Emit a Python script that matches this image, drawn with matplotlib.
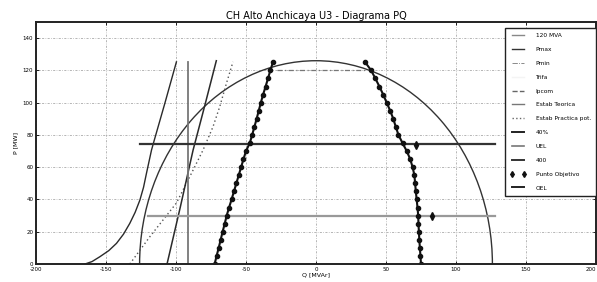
import matplotlib
matplotlib.use('Agg')
import matplotlib.pyplot as plt
from matplotlib.patches import Arc
from matplotlib.lines import Line2D

title = "CH Alto Anchicaya U3 - Diagrama PQ"
x_ticks = [-200, -150, -100, -50, 0, 50, 100, 150, 200]
y_ticks = [0, 20, 40, 60, 80, 100, 120, 140]

# stator limit (MVA circle radius)
mva_radius = 126

# theoretical stability limit
teorica_q = [-165.0, -160.0, -154.4, -148.0, -142.5, -137.5, -133.0, -129.2, -125.8, -123.2,
             -121.1, -117.5, -115.5, -108.0, -99.7]
teorica_p = [0.0, 1.5, 4.5, 8.3, 12.8, 18.5, 25.2, 32.0, 39.6, 47.5,
             56.2, 70.6, 76.8, 99.5, 125.3]

# practical stability limit (dotted)
practica_q = [-133.0, -118.7, -99.7, -87.8, -80.7, -73.6, -68.8, -64.0, -59.3]
practica_p = [0.0, 16.9, 37.8, 58.2, 70.6, 85.0, 97.4, 111.9, 125.3]

# straight limit line
linea_q = [-106.4, -97.0, -87.8, -79.5, -71.2]
linea_p = [0.0, 35.0, 70.6, 98.0, 126.0]

# vertical limit
vertical_q = [-91.4, -91.4]
vertical_p = [0.0, 125.0]

# marker curves
curve_p = [0, 5, 10, 15, 20, 25, 30, 35, 40, 45, 50, 55, 60, 65, 70, 75, 80, 85, 90, 95,
           100, 105, 110, 115, 120, 125]
uel_q = [-72.4, -71.0, -69.5, -68.1, -66.7, -65.2, -63.8, -62.1, -60.3, -58.6, -56.9, -55.2,
         -53.5, -51.8, -50.0, -47.3, -45.6, -44.0, -42.4, -40.9, -39.4, -37.8, -36.0, -34.3,
         -32.6, -30.8]
oel_q = [75.0, 74.6, 74.2, 73.8, 73.5, 73.2, 73.0, 72.5, 71.9, 71.3, 70.8, 70.3, 69.0, 67.3,
         64.8, 61.8, 58.9, 57.0, 55.2, 53.0, 50.5, 48.0, 45.3, 42.4, 39.4, 35.2]

# horizontal lines
h1_q = [-126.0, 128.0]
h1_p = [74.5, 74.5]
h2_q = [-120.0, 128.0]
h2_p = [29.5, 29.5]
pmax_q = [-28.0, 36.0]
pmax_p = [120.0, 120.0]

# target points
obj_q = [71.6, 83.0]
obj_p = [73.7, 29.7]

legend_labels = ["120 MVA", "Pmax", "Pmin", "Trifa", "Ipcom", "Estab Teorica",
                 "Estab Practica pot.", "40%", "UEL", "400", "Punto Objetivo", "OEL"]

fig = plt.figure(figsize=(5.97, 2.82), dpi=100)
ax = fig.add_axes([36 / 597, 18 / 282, 560 / 597, 242 / 282])

ax.set_xlim(-200, 200)
ax.set_ylim(0, 150)
ax.set_xticks(x_ticks)
ax.set_xticklabels([str(v) for v in x_ticks])
ax.set_yticks(y_ticks)
ax.get_xticklabels()[-1].set_horizontalalignment('right')
ax.tick_params(direction='in', labelsize=4, length=2.5, width=0.6, top=True, right=True, pad=2)
for s in ax.spines.values():
    s.set_linewidth(1.4)
    s.set_color('#222222')

ax.grid(True, color='#999999', linestyle=(0, (3, 2, 1, 2)), linewidth=0.5)
ax.set_axisbelow(True)

arc = Arc((0, 0), 2 * mva_radius, 2 * mva_radius, theta1=0, theta2=180,
          color='#333333', lw=1.0)
ax.add_patch(arc)

ax.plot(teorica_q, teorica_p, color='#2a2a2a', lw=1.0)
ax.plot(practica_q, practica_p, color='#555555', lw=1.0, linestyle=(0, (1, 2)))
ax.plot(linea_q, linea_p, color='#2a2a2a', lw=1.1)
ax.plot(vertical_q, vertical_p, color='#777777', lw=1.3)

ax.plot(h1_q, h1_p, color='#333333', lw=1.6)
ax.plot(h2_q, h2_p, color='#999999', lw=1.6)
ax.plot(pmax_q, pmax_p, color='#777777', lw=0.9, linestyle=(0, (4, 2, 1, 2)))

ax.plot(uel_q, curve_p, color='#111111', lw=1.5, marker='o', markersize=3)
ax.plot(oel_q, curve_p, color='#111111', lw=1.5, marker='o', markersize=3)

ax.plot(obj_q, obj_p, linestyle='none', marker='d', color='#111111', markersize=4)

ax.set_title(title, fontsize=7, pad=2)
ax.set_xlabel("Q [MVAr]", fontsize=4.5, labelpad=0.5)
ax.set_ylabel("P [MW]", fontsize=4.5, labelpad=3)

handles = [
    Line2D([], [], color='#888888', lw=1.0),
    Line2D([], [], color='#333333', lw=1.0),
    Line2D([], [], color='#777777', lw=0.6, linestyle='-.'),
    Line2D([], [], color='#f4f4f4', lw=1.0),
    Line2D([], [], color='#666666', lw=1.0, linestyle='--'),
    Line2D([], [], color='#777777', lw=1.0),
    Line2D([], [], color='#666666', lw=1.0, linestyle=':'),
    Line2D([], [], color='#222222', lw=1.4),
    Line2D([], [], color='#777777', lw=1.2),
    Line2D([], [], color='#333333', lw=1.4),
    Line2D([], [], color='#111111', linestyle='none', marker='d', markersize=3),
    Line2D([], [], color='#222222', lw=1.4),
]
leg = ax.legend(handles, legend_labels, loc='upper right', bbox_to_anchor=(1.0, 1 - 6 / 242),
                borderaxespad=0, fontsize=4.2, labelspacing=1.5, handlelength=2.7,
                handletextpad=1.6, borderpad=0.9, numpoints=2, fancybox=False,
                framealpha=1, edgecolor='#222222')
leg.get_frame().set_linewidth(1.0)

fig.savefig('out.png', dpi=100)
